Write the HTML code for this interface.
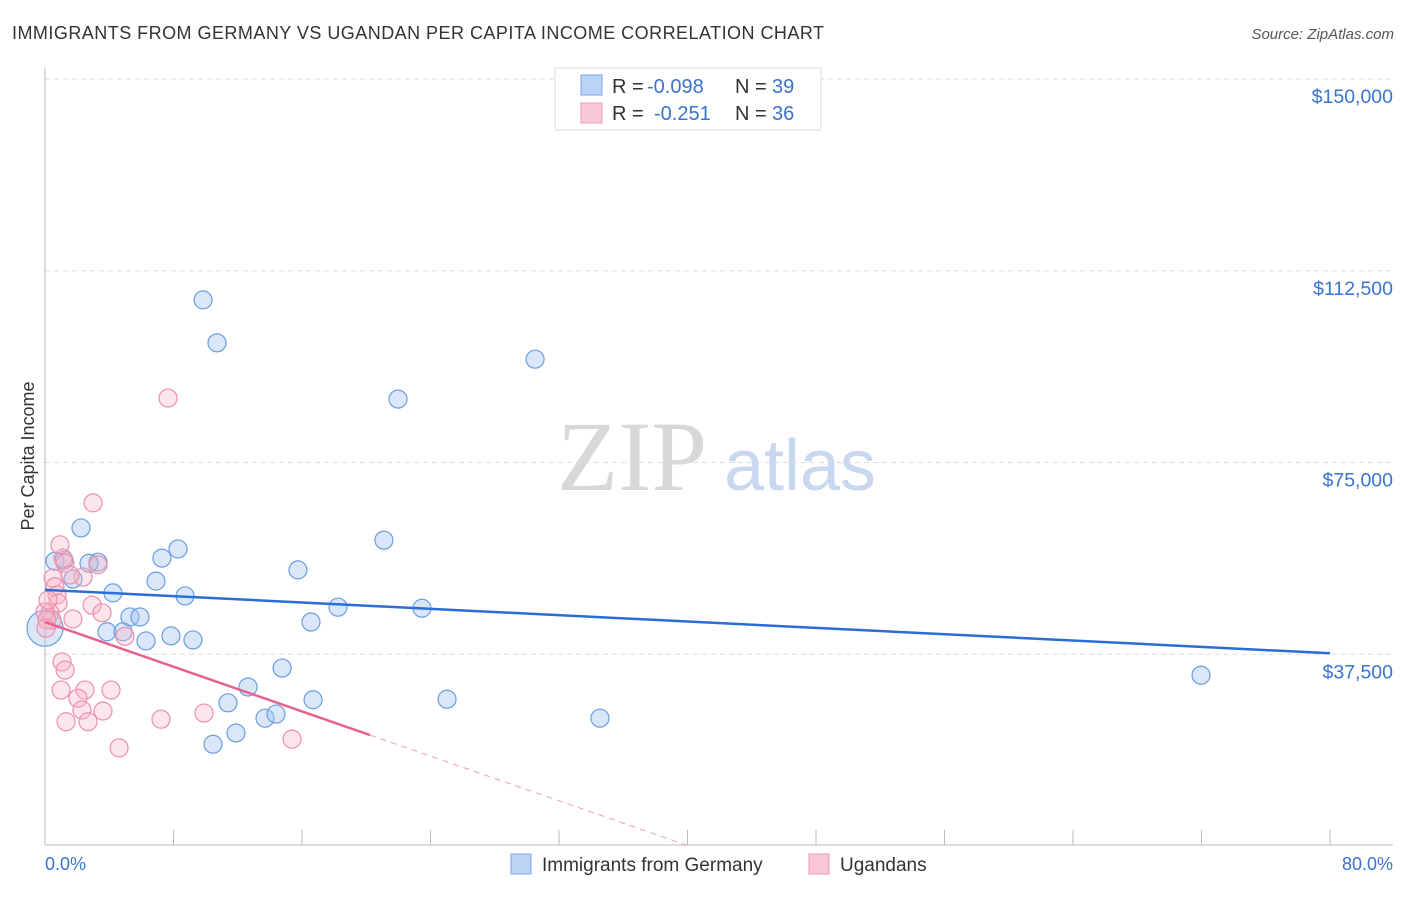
<!DOCTYPE html>
<html><head><meta charset="utf-8"><style>
body{margin:0;background:#fff;font-family:"Liberation Sans",sans-serif;}
</style></head><body>
<svg id="chart" width="1406" height="892" xmlns="http://www.w3.org/2000/svg">
<text x="12" y="39" font-size="18" fill="#333" textLength="812">IMMIGRANTS FROM GERMANY VS UGANDAN PER CAPITA INCOME CORRELATION CHART</text>
<text x="1394" y="39" font-size="15" fill="#555" font-style="italic" text-anchor="end">Source: ZipAtlas.com</text>
<text x="34" y="456" font-size="18" fill="#333" text-anchor="middle" transform="rotate(-90 34 456)">Per Capita Income</text>
<text x="632" y="490" font-size="100" fill="#d8d8d8" text-anchor="middle" font-family="Liberation Serif,serif">ZIP</text>
<text x="800" y="490" font-size="72" fill="#c8d8f0" text-anchor="middle">atlas</text>
<g id="grid"></g><g id="marks"></g>
<g>
<rect x="555" y="68" width="266" height="62" fill="#fff" stroke="#ddd"/>
<rect x="581" y="75" width="21" height="20" fill="#bcd3f5" stroke="#7aa6e6"/>
<text x="612" y="93" font-size="20" fill="#333">R =</text>
<text x="647" y="93" font-size="20" fill="#3a73d0">-0.098</text>
<text x="735" y="93" font-size="20" fill="#333">N =</text>
<text x="772" y="93" font-size="20" fill="#3a73d0">39</text>
<rect x="581" y="103" width="21" height="20" fill="#f9c8d6" stroke="#ee9ab4"/>
<text x="612" y="120" font-size="20" fill="#333">R =</text>
<text x="654" y="120" font-size="20" fill="#3a73d0">-0.251</text>
<text x="735" y="120" font-size="20" fill="#333">N =</text>
<text x="772" y="120" font-size="20" fill="#3a73d0">36</text>
</g>
<g>
<rect x="511" y="854" width="20" height="20" fill="#bcd3f5" stroke="#7aa6e6"/>
<text x="542" y="871" font-size="19" fill="#333">Immigrants from Germany</text>
<rect x="809" y="854" width="20" height="20" fill="#f9c8d6" stroke="#ee9ab4"/>
<text x="840" y="871" font-size="19" fill="#333">Ugandans</text>
</g>
<text x="45" y="870" font-size="18" fill="#3a73d0">0.0%</text>
<text x="1393" y="870" font-size="18" fill="#3a73d0" text-anchor="end">80.0%</text>
</svg>
<script>
const yTicks=[37500,75000,112500,150000];
const yTickLabels=["$37,500","$75,000","$112,500","$150,000"];
const xTicks=[0,8,16,24,32,40,48,56,64,72,80];
const germanyX=[0.62,1.18,2.24,1.74,3.30,2.74,4.23,3.86,4.86,5.29,5.91,6.29,6.91,7.28,7.84,8.28,8.72,9.21,9.84,10.71,10.46,11.39,11.89,12.64,13.70,14.38,14.76,15.75,16.56,16.69,18.24,21.10,21.98,23.47,25.03,30.51,34.55,71.97,0];
const germanyY=[55700,55900,62200,52200,55500,55300,49500,41900,41900,44800,44800,40100,51800,56300,41100,58100,48900,40300,106800,98400,19900,28000,22100,31100,25000,25800,34800,54000,43800,28600,46700,59800,87400,46500,28700,95200,25000,33400,42600];
const ugandaX=[7.66,2.99,1.12,1.25,3.30,2.37,0.50,0.62,0.75,0.81,0.31,0.44,2.93,3.55,1.74,4.98,1.06,1.25,1.00,2.49,2.05,4.11,2.30,3.61,1.31,2.68,7.22,9.90,4.61,15.38,0,0.12,0.93,0.19,1.56,0.06];
const ugandaY=[87600,67100,56300,55300,55000,52600,52400,50700,49100,47500,45600,44200,47100,45600,44400,41000,36000,34400,30500,30500,28900,30500,26600,26400,24300,24300,24800,26000,19200,20900,45800,44200,58900,48100,53000,42600];
const germanyTrend=[50100,37700];
const ugandaTrend=[43800,21700];
const ugandaSolidEnd=20.23;
const NS="http://www.w3.org/2000/svg";
const sx=v=>45+v*(1285/80);
const sy=v=>846-v*(767/150000);
function mk(tag,attrs,parent){const e=document.createElementNS(NS,tag);for(const k in attrs)e.setAttribute(k,attrs[k]);parent.appendChild(e);return e;}
const grid=document.getElementById('grid'),marks=document.getElementById('marks');
yTicks.forEach((t,i)=>{
 const l=mk('line',{x1:45,x2:1393,y1:sy(t),y2:sy(t),stroke:'#ddd','stroke-dasharray':'5,4'},grid);
 
 
 const tx=mk('text',{x:1393,y:sy(t)+24,'font-size':19.5,fill:'#3a73d0','text-anchor':'end'},grid);
 tx.textContent=yTickLabels[i];
 
 
});
const ax=mk('line',{x1:45,x2:45,y1:68,y2:845,stroke:'#bbb'},grid);


const bx=mk('line',{x1:45,x2:1393,y1:845,y2:845,stroke:'#bbb'},grid);


xTicks.forEach(t=>{
 const l=mk('line',{x1:sx(t),x2:sx(t),y1:830,y2:845,stroke:'#bbb'},grid);
 
 
});
germanyX.forEach((x,i)=>{
 const c=mk('circle',{cx:sx(x),cy:sy(germanyY[i]),r:(x===0?18:9),fill:'rgba(160,196,240,0.4)',stroke:'#6a9ee0','stroke-width':1.2},marks);
 
 
});
ugandaX.forEach((x,i)=>{
 const c=mk('circle',{cx:sx(x),cy:sy(ugandaY[i]),r:9,fill:'rgba(248,180,200,0.35)',stroke:'#eb90ab','stroke-width':1.2},marks);
 
 
});
const gl=mk('line',{x1:sx(0),y1:sy(germanyTrend[0]),x2:sx(80),y2:sy(germanyTrend[1]),stroke:'#2a6dd6','stroke-width':2.5},marks);


const slope=(ugandaTrend[1]-ugandaTrend[0])/ugandaSolidEnd;
const zeroX=-ugandaTrend[0]/slope;
const ul=mk('line',{x1:sx(0),y1:sy(ugandaTrend[0]),x2:sx(ugandaSolidEnd),y2:sy(ugandaTrend[1]),stroke:'#e8608c','stroke-width':2.5},marks);


const ud=mk('line',{x1:sx(ugandaSolidEnd),y1:sy(ugandaTrend[1]),x2:sx(zeroX),y2:sy(0),stroke:'#e8a0b8','stroke-width':1,'stroke-dasharray':'6,5'},marks);


</script>
</body></html>
